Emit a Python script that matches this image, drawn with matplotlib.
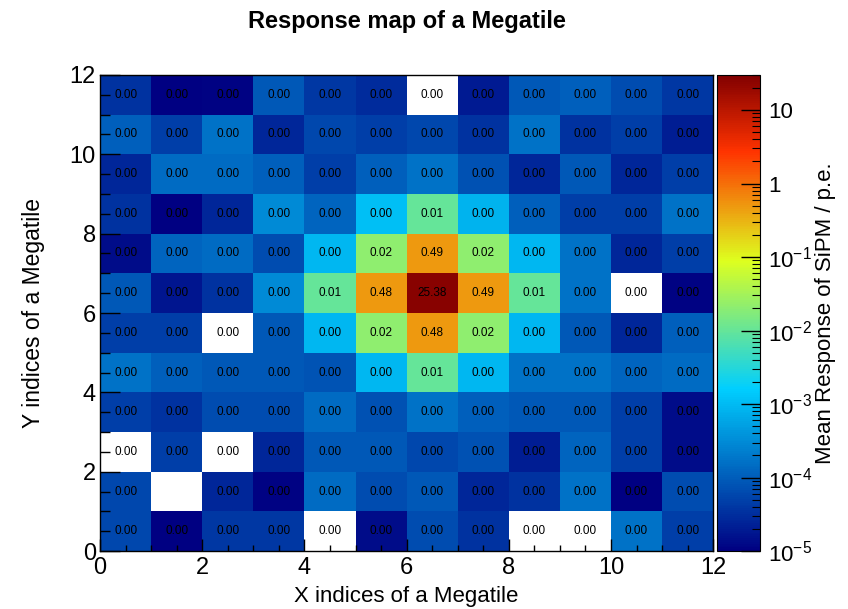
import numpy as np
import matplotlib
matplotlib.use('Agg')
import matplotlib.pyplot as plt
from matplotlib.colors import LinearSegmentedColormap, LogNorm
from matplotlib.ticker import FixedLocator, FixedFormatter, MultipleLocator

plt.rcParams['font.family'] = ['Liberation Sans', 'DejaVu Sans']
plt.rcParams['mathtext.fontset'] = 'custom'
plt.rcParams['mathtext.rm'] = 'Liberation Sans'
plt.rcParams['mathtext.it'] = 'Liberation Sans'

# mean response per tile, rows listed top (y=11) to bottom (y=0)
row_11 = [3.5e-5, 1.05e-5, 1.1e-5, 9.0e-5, 4.0e-5, 2.9e-5, 5e-6, 1.9e-5, 9.0e-5, 1.08e-4, 6.6e-5, 4.0e-5]
row_10 = [1.08e-4, 4.8e-5, 1.67e-4, 2.6e-5, 5.8e-5, 4.8e-5, 5.8e-5, 3.5e-5, 1.67e-4, 3.5e-5, 4.8e-5, 2.1e-5]
row_9 = [2.6e-5, 1.39e-4, 1.39e-4, 1.08e-4, 4.8e-5, 1.08e-4, 1.67e-4, 7.4e-5, 2.6e-5, 9.0e-5, 2.6e-5, 4.8e-5]
row_8 = [3.5e-5, 1.05e-5, 2.6e-5, 3.1e-4, 1.22e-4, 1.1e-3, 0.0098, 8e-4, 1.08e-4, 4.8e-5, 4.8e-5, 1.67e-4]
row_7 = [1.4e-5, 1.22e-4, 1.39e-4, 6.6e-5, 9e-4, 0.021, 0.49, 0.021, 9e-4, 1.67e-4, 2.6e-5, 4.8e-5]
row_6 = [9.0e-5, 1.7e-5, 3.5e-5, 3.1e-4, 0.0098, 0.48, 25.38, 0.49, 0.0098, 1.67e-4, 5e-6, 1.1e-5]
row_5 = [4.8e-5, 4.8e-5, 5e-6, 9.0e-5, 9e-4, 0.021, 0.48, 0.021, 9e-4, 9.0e-5, 2.6e-5, 1.08e-4]
row_4 = [1.67e-4, 1.08e-4, 9.0e-5, 9.0e-5, 7.9e-5, 9e-4, 0.0098, 9e-4, 1.67e-4, 1.67e-4, 1.22e-4, 1.39e-4]
row_3 = [4.8e-5, 3.5e-5, 6.6e-5, 6.6e-5, 1.39e-4, 7.4e-5, 1.67e-4, 1.08e-4, 9.0e-5, 9.0e-5, 4.8e-5, 1.4e-5]
row_2 = [5e-6, 4.8e-5, 5e-6, 2.6e-5, 9.0e-5, 9.0e-5, 5.8e-5, 7.4e-5, 2.1e-5, 1.22e-4, 4.8e-5, 1.4e-5]
row_1 = [5.8e-5, 0.0, 2.6e-5, 1.1e-5, 1.39e-4, 6.6e-5, 9.0e-5, 2.6e-5, 3.5e-5, 1.67e-4, 1.05e-5, 6.6e-5]
row_0 = [5.8e-5, 1.05e-5, 4.0e-5, 4.0e-5, 5e-6, 1.4e-5, 6.6e-5, 3.5e-5, 5e-6, 5e-6, 1.67e-4, 4.8e-5]

cbar_ticks = [1e-5, 1e-4, 1e-3, 1e-2, 1e-1, 1, 10]
cbar_labels = ['$10^{-5}$', '$10^{-4}$', '$10^{-3}$', '$10^{-2}$', '$10^{-1}$', '1', '10']

grid = np.array([row_0, row_1, row_2, row_3, row_4, row_5,
                 row_6, row_7, row_8, row_9, row_10, row_11])
ny, nx = grid.shape

# ROOT-like rainbow palette
cmap = LinearSegmentedColormap.from_list('root', [
    (0.00, (0.00, 0.00, 0.51)),
    (0.34, (0.00, 0.81, 1.00)),
    (0.61, (0.87, 1.00, 0.12)),
    (0.84, (1.00, 0.20, 0.00)),
    (1.00, (0.51, 0.00, 0.00)),
], N=256)
cmap.set_under('white')
cmap.set_bad('white')
norm = LogNorm(vmin=1e-5, vmax=30)

fig = plt.figure(figsize=(8.48, 6.09), dpi=100)
ax = fig.add_axes([0.118, 0.095, 0.723, 0.782])
cax = fig.add_axes([0.8455, 0.095, 0.0507, 0.782])

masked = np.ma.masked_where(grid <= 0, grid)
mesh = ax.pcolormesh(np.arange(nx + 1), np.arange(ny + 1), masked,
                     cmap=cmap, norm=norm)

for j in range(ny):
    for i in range(nx):
        v = grid[j, i]
        if v != 0:
            ax.text(i + 0.5, j + 0.5, '%.2f' % v, ha='center', va='center',
                    fontsize=8.5, color='black')

ax.set_xlim(0, nx)
ax.set_ylim(0, ny)
ax.xaxis.set_major_locator(MultipleLocator(2))
ax.xaxis.set_minor_locator(MultipleLocator(0.5))
ax.yaxis.set_major_locator(MultipleLocator(2))
ax.yaxis.set_minor_locator(MultipleLocator(0.5))
ax.tick_params(axis='x', which='major', direction='in', length=8.6, width=1,
               labelsize=17, pad=4)
ax.tick_params(axis='x', which='minor', direction='in', length=4.3, width=1)
ax.tick_params(axis='y', which='major', direction='in', length=14.4, width=1,
               labelsize=17, pad=3)
ax.tick_params(axis='y', which='minor', direction='in', length=7.2, width=1)
for s in ax.spines.values():
    s.set_linewidth(1)

ax.set_xlabel('X indices of a Megatile', fontsize=16, labelpad=5)
ax.set_ylabel('Y indices of a Megatile', fontsize=16.5, labelpad=18)
fig.text(0.48, 0.965, 'Response map of a Megatile', ha='center', va='center',
         fontsize=17, fontweight='bold')

cb = fig.colorbar(mesh, cax=cax, extend='neither')
cb.outline.set_linewidth(0.8)
cax.yaxis.set_major_locator(FixedLocator(cbar_ticks))
cax.yaxis.set_major_formatter(FixedFormatter(cbar_labels))
minor = [m * 10.0 ** e for e in range(-5, 2) for m in range(2, 10)]
cax.yaxis.set_minor_locator(FixedLocator(minor))
cax.yaxis.set_minor_formatter(FixedFormatter([''] * len(minor)))
cax.tick_params(which='major', direction='in', length=14, width=1,
                labelsize=16, pad=6)
cax.tick_params(which='minor', direction='in', length=5.5, width=0.8)
cb.set_label('Mean Response of SiPM / p.e.', fontsize=16, labelpad=2)

fig.savefig('out.png', dpi=100)
